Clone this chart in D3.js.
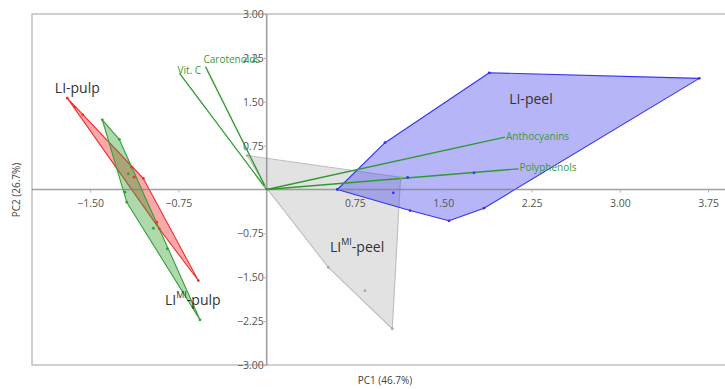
<!DOCTYPE html>
<html><head><meta charset="utf-8">
<script src="https://cdn.jsdelivr.net/npm/d3@7"></script>
<style>
html,body{margin:0;padding:0;background:#fff;}
svg{display:block;font-family:"Open Sans","Segoe UI",sans-serif;}
</style></head>
<body>
<svg id="chart" width="725" height="389"></svg>
<script>
// ---- data ----
const xTicks = [-1.50, -0.75, 0.75, 1.50, 2.25, 3.00, 3.75];
const yTicks = [3.00, 2.25, 1.50, 0.75, -0.75, -1.50, -2.25, -3.00];

const groupNames = ["LIMI-peel", "LI-peel", "LI-pulp", "LIMI-pulp"];
const liMiPeel = [[-0.165,0.58],[-0.01,0.05],[0.523,-1.33],[1.067,-2.38],[1.137,0.21],[0.835,-1.73]];
const liPeel = [[0.60,0.00],[1.005,0.80],[1.891,1.995],[3.675,1.90],[1.846,-0.32],[1.549,-0.535],[1.218,-0.36],[1.076,-0.056],[1.198,0.205],[1.761,0.285]];
const liPulp = [[-1.694,1.561],[-1.629,1.407],[-1.563,1.277],[-1.147,0.381],[-1.127,0.210],[-1.048,0.188],[-0.935,-0.559],[-0.912,-0.672],[-0.581,-1.556]];
const liMiPulp = [[-1.397,1.191],[-1.252,0.855],[-1.176,0.268],[-1.204,-0.046],[-1.189,-0.217],[-0.963,-0.662],[-0.845,-1.014],[-0.624,-2.012],[-0.567,-2.227]];

const loadingNames = ["Carotenoids", "Vit. C", "Anthocyanins", "Polyphenols"];
const loadingX = [-0.52, -0.74, 2.025, 2.14];
const loadingY = [2.10, 1.985, 0.894, 0.354];

const groupLabelX = [0.538, 2.06, -1.80, -0.864];
const groupLabelY = [-1.00, 1.52, 1.71, -1.90];

// ---- styles ----
const groupStyles = [
  {fill:"rgba(185,185,185,0.42)", stroke:"#bdbdbd"},
  {fill:"rgba(60,60,235,0.38)", stroke:"#3434f0"},
  {fill:"rgba(240,40,40,0.40)", stroke:"#f03030"},
  {fill:"rgba(50,160,50,0.40)", stroke:"#35a035"}
];
const groupData = [liMiPeel, liPeel, liPulp, liMiPulp];
const loadLabelOffset = [[-2,-6],[-2,-2],[1,0],[1,0]];

const svg = d3.select("#chart");
const x = d3.scaleLinear().domain([-2, 4]).range([31.3, 737.5]);
const y = d3.scaleLinear().domain([-3, 3]).range([365, 14]);

// border
svg.append("rect").attr("x", 32).attr("y", 14).attr("width", 760).attr("height", 351)
  .attr("fill", "none").attr("stroke", "#bcbcbc").attr("stroke-width", 1.4);

// polygons
const line = d3.line().x(d => x(d[0])).y(d => y(d[1])).curve(d3.curveLinearClosed);
groupData.forEach((pts, i) => {
  const hull = d3.polygonHull(pts);
  svg.append("path").attr("d", line(hull))
    .attr("fill", groupStyles[i].fill).attr("stroke", groupStyles[i].stroke)
    .attr("stroke-width", 1.1).attr("stroke-linejoin", "round");
});

// axes through origin
const xAxis = svg.append("g").attr("transform", `translate(0,${y(0)})`)
  .call(d3.axisBottom(x).tickValues(xTicks).tickSize(3).tickSizeOuter(0).tickFormat(d3.format(".2f")));
xAxis.select(".domain").attr("d", `M32,0H740`);
const yAxis = svg.append("g").attr("transform", `translate(${x(0)},0)`)
  .call(d3.axisLeft(y).tickValues(yTicks).tickSize(3).tickSizeOuter(0).tickFormat(d3.format(".2f")));
yAxis.select(".domain").attr("d", `M0,14V365`);
[xAxis, yAxis].forEach(a => {
  a.select(".domain").attr("stroke", "rgba(130,130,130,0.75)").attr("stroke-width", 1.6);
  a.selectAll(".tick line").attr("stroke", "#b0b0b0");
  a.selectAll(".tick text").attr("fill", "#555").attr("font-size", 10.5)
    .attr("font-family", '"Open Sans","Segoe UI",sans-serif');
});
xAxis.selectAll(".tick text").attr("dy", "1.05em");
yAxis.selectAll(".tick text").attr("x", -3);

// loading vectors
loadingNames.forEach((n, i) => {
  svg.append("line").attr("x1", x(0)).attr("y1", y(0))
    .attr("x2", x(loadingX[i])).attr("y2", y(loadingY[i]))
    .attr("stroke", "#2f9a2f").attr("stroke-width", 1.3);
});

// points
groupData.forEach((pts, i) => {
  svg.append("g").selectAll("circle").data(pts).join("circle")
    .attr("cx", d => x(d[0])).attr("cy", d => y(d[1])).attr("r", 1.4)
    .attr("fill", i === 0 ? "#a8a8a8" : groupStyles[i].stroke);
});

// loading labels
loadingNames.forEach((n, i) => {
  svg.append("text").attr("x", x(loadingX[i]) + loadLabelOffset[i][0])
    .attr("y", y(loadingY[i]) + loadLabelOffset[i][1])
    .attr("dominant-baseline", "middle").attr("font-size", 10)
    .attr("fill", "#3a9a3a").text(n);
});

// group labels
groupNames.forEach((n, i) => {
  const t = svg.append("text").attr("x", x(groupLabelX[i])).attr("y", y(groupLabelY[i]))
    .attr("dominant-baseline", "middle").attr("font-size", 14).attr("fill", "#333");
  if (n.startsWith("LIMI")) {
    t.append("tspan").text("LI");
    t.append("tspan").attr("font-size", 9).attr("dy", -5).text("MI");
    t.append("tspan").attr("dy", 5).text(n.slice(4));
  } else {
    t.text(n);
  }
});

// axis titles
svg.append("text").attr("x", 385).attr("y", 384).attr("text-anchor", "middle")
  .attr("font-size", 10).attr("fill", "#444").text("PC1 (46.7%)");
svg.append("text").attr("transform", "translate(17,190) rotate(-90)")
  .attr("text-anchor", "middle").attr("dominant-baseline", "middle")
  .attr("font-size", 10).attr("fill", "#444").text("PC2 (26.7%)");
</script>
</body></html>
